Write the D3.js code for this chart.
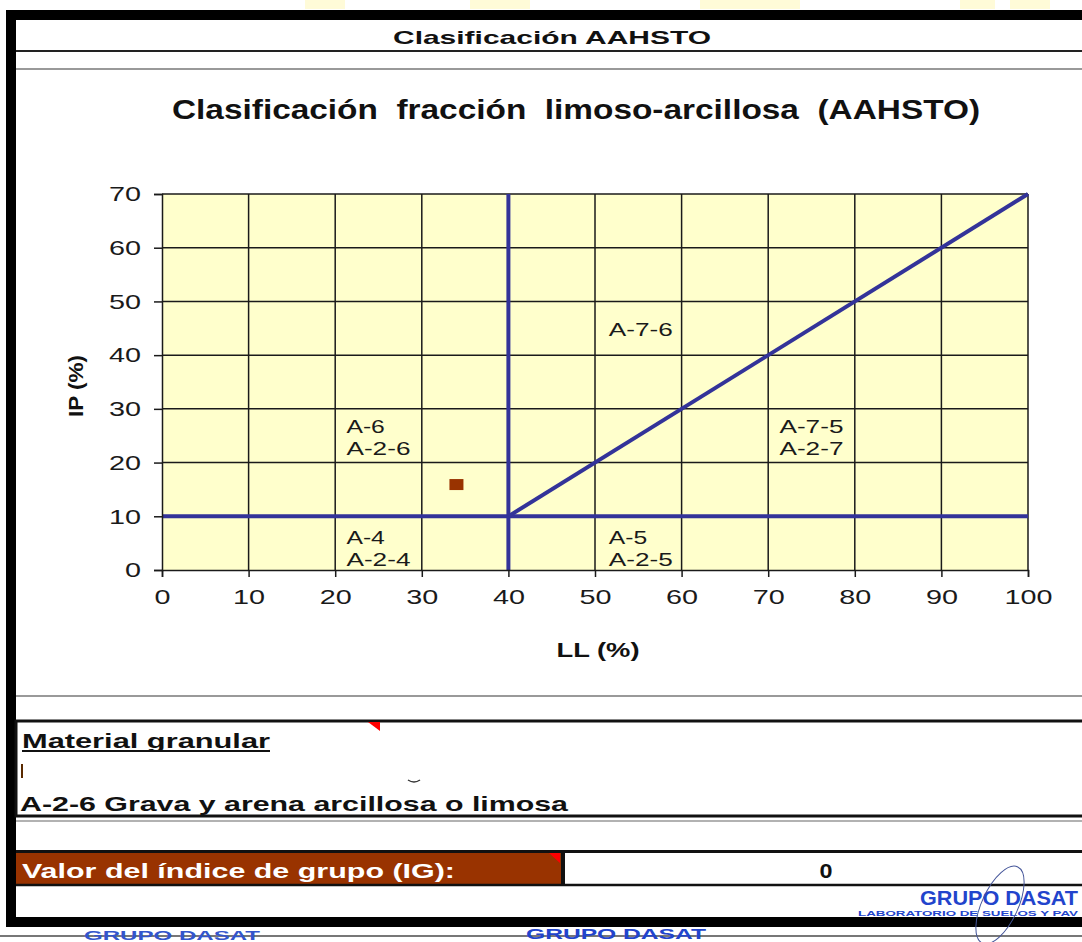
<!DOCTYPE html>
<html>
<head>
<meta charset="utf-8">
<script src="https://cdn.jsdelivr.net/npm/d3@7"></script>
<style>
  html, body { margin: 0; padding: 0; background: #fff; }
  svg { display: block; font-family: "Liberation Sans", Arial, sans-serif; }
</style>
</head>
<body>
<svg id="chart" width="1082" height="942"></svg>
<script>
// chart data
const xTicks = [0, 10, 20, 30, 40, 50, 60, 70, 80, 90, 100];
const yTicks = [0, 10, 20, 30, 40, 50, 60, 70];

// boundary lines between groups (LL, IP)
const boundaryLines = [
  [[0, 10], [100, 10]],
  [[40, 0], [40, 70]],
  [[40, 10], [100, 70]]
];

// zone labels [LL, IP, line1, line2]
const zoneLabels = [
  [51.6, 43.5, "A-7-6", null],
  [21.3, 25.5, "A-6", "A-2-6"],
  [71.3, 25.5, "A-7-5", "A-2-7"],
  [21.3, 4.8, "A-4", "A-2-4"],
  [51.6, 4.8, "A-5", "A-2-5"]
];

// sample point
const samplePoint = [[34, 16]];
const igValue = 0;
const resultText = "A-2-6 Grava y arena arcillosa o limosa";

const svg = d3.select("#chart");

// stretched text helper (the source render is wider than the font)
function label(g, x, y, str, size, width, opts = {}) {
  const t = g.append("text")
    .attr("x", x).attr("y", y)
    .attr("font-size", size)
    .attr("font-weight", opts.bold ? "bold" : "normal")
    .attr("fill", opts.fill || "#1a1a1a")
    .attr("text-anchor", opts.anchor || "start")
    .text(str);
  if (width) t.attr("textLength", width).attr("lengthAdjust", "spacingAndGlyphs");
  return t;
}

// faint watermark shapes at the very top
const wm = [[305, 40], [470, 60], [700, 70], [760, 40], [960, 35], [1010, 40]];
svg.selectAll("rect.wm").data(wm).join("rect")
  .attr("x", d => d[0]).attr("y", 0).attr("width", d => d[1]).attr("height", 9)
  .attr("fill", "#fffbd8");

// outer frame
svg.append("line").attr("x1", 0).attr("x2", 1082).attr("y1", 936).attr("y2", 936)
  .attr("stroke", "#777").attr("stroke-width", 2);
svg.append("rect").attr("x", 6).attr("y", 10).attr("width", 1080).attr("height", 10).attr("fill", "#000");
svg.append("rect").attr("x", 6).attr("y", 10).attr("width", 10).attr("height", 917).attr("fill", "#000");
svg.append("rect").attr("x", 6).attr("y", 917).attr("width", 1080).attr("height", 10).attr("fill", "#000");

// header row
label(svg, 552, 44, "Clasificación AAHSTO", 19, 318, { bold: true, anchor: "middle", fill: "#111" });
svg.append("line").attr("x1", 16).attr("x2", 1082).attr("y1", 51).attr("y2", 51)
  .attr("stroke", "#222").attr("stroke-width", 2);
svg.append("line").attr("x1", 16).attr("x2", 1082).attr("y1", 69).attr("y2", 69)
  .attr("stroke", "#999").attr("stroke-width", 2);

// chart title (double spaces kept)
label(svg, 576, 119, "Clasificación  fracción  limoso-arcillosa  (AAHSTO)", 27, 808,
  { bold: true, anchor: "middle", fill: "#111" })
  .style("white-space", "pre");

// scales
const x = d3.scaleLinear().domain([0, 100]).range([162, 1028]);
const y = d3.scaleLinear().domain([0, 70]).range([570, 194]);

const plot = svg.append("g");
plot.append("rect")
  .attr("x", x(0)).attr("y", y(70))
  .attr("width", x(100) - x(0)).attr("height", y(0) - y(70))
  .attr("fill", "#ffffcc");

// grid
plot.selectAll("line.vg").data(xTicks.slice(1)).join("line")
  .attr("x1", d => x(d)).attr("x2", d => x(d))
  .attr("y1", y(0)).attr("y2", y(70))
  .attr("stroke", "#1a1a1a").attr("stroke-width", 1.5);
plot.selectAll("line.hg").data(yTicks.slice(1)).join("line")
  .attr("x1", x(0)).attr("x2", x(100))
  .attr("y1", d => y(d)).attr("y2", d => y(d))
  .attr("stroke", "#1a1a1a").attr("stroke-width", 1.5);

// axes
const xAxis = svg.append("g").attr("transform", `translate(0,${y(0)})`)
  .call(d3.axisBottom(x).tickValues(xTicks).tickSize(7).tickPadding(12).tickFormat(d3.format("d")));
const yAxis = svg.append("g").attr("transform", `translate(${x(0)},0)`)
  .call(d3.axisLeft(y).tickValues(yTicks).tickSize(8).tickPadding(13).tickFormat(d3.format("d")));

[xAxis, yAxis].forEach(a => {
  a.select(".domain").attr("stroke", "#1a1a1a").attr("stroke-width", 1.5);
  a.selectAll(".tick line").attr("stroke", "#1a1a1a").attr("stroke-width", 1.5);
  a.selectAll(".tick text")
    .attr("font-size", 21)
    .attr("fill", "#1a1a1a")
    .attr("font-family", "Liberation Sans, Arial, sans-serif")
    .attr("textLength", d => String(d).length * 16)
    .attr("lengthAdjust", "spacingAndGlyphs");
});
xAxis.selectAll(".tick text").attr("dy", "0.71em");

// boundary lines
const line = d3.line().x(d => x(d[0])).y(d => y(d[1]));
plot.selectAll("path.bound").data(boundaryLines).join("path")
  .attr("d", line)
  .attr("fill", "none")
  .attr("stroke", "#333399")
  .attr("stroke-width", 4);

// zone labels
zoneLabels.forEach(([lx, ly, a, b]) => {
  label(plot, x(lx), y(ly), a, 18, a.length * 12.8, { fill: "#1a1a1a" });
  if (b) label(plot, x(lx), y(ly) + 22, b, 18, b.length * 12.8, { fill: "#1a1a1a" });
});

// sample point
plot.selectAll("rect.pt").data(samplePoint).join("rect")
  .attr("x", d => x(d[0]) - 7).attr("y", d => y(d[1]) - 5)
  .attr("width", 14).attr("height", 11)
  .attr("fill", "#993300");

// axis titles
label(svg, 598, 657, "LL (%)", 21, 83, { bold: true, anchor: "middle", fill: "#111" });
label(svg, 0, 0, "IP (%)", 21, 62, { bold: true, anchor: "middle", fill: "#111" })
  .attr("transform", "translate(83,386) rotate(-90)");

// lower table
svg.append("line").attr("x1", 16).attr("x2", 1082).attr("y1", 696).attr("y2", 696)
  .attr("stroke", "#777").attr("stroke-width", 1.5);
svg.append("rect").attr("x", 16).attr("y", 721).attr("width", 1080).attr("height", 95)
  .attr("fill", "none").attr("stroke", "#111").attr("stroke-width", 3);
svg.append("line").attr("x1", 16).attr("x2", 1082).attr("y1", 821).attr("y2", 821)
  .attr("stroke", "#999").attr("stroke-width", 1.5);
svg.append("path").attr("d", "M368,722 L380,722 L380,731 Z").attr("fill", "#ff0000");

label(svg, 22, 748, "Material granular", 21, 248, { bold: true, fill: "#111" });
svg.append("line").attr("x1", 22).attr("x2", 270).attr("y1", 751).attr("y2", 751)
  .attr("stroke", "#111").attr("stroke-width", 2);
svg.append("rect").attr("x", 21).attr("y", 764).attr("width", 2).attr("height", 14).attr("fill", "#5a2a00");
svg.append("path").attr("d", "M408,780 Q414,784 420,780").attr("fill", "none")
  .attr("stroke", "#333").attr("stroke-width", 1.5);
label(svg, 20, 811, resultText, 21, 548, { bold: true, fill: "#111" });

// IG row
svg.append("line").attr("x1", 16).attr("x2", 1082).attr("y1", 851.5).attr("y2", 851.5)
  .attr("stroke", "#111").attr("stroke-width", 3);
svg.append("rect").attr("x", 16).attr("y", 853).attr("width", 545).attr("height", 31).attr("fill", "#993300");
svg.append("rect").attr("x", 561).attr("y", 853).attr("width", 4).attr("height", 31).attr("fill", "#111");
svg.append("path").attr("d", "M549,853 L560,853 L560,863 Z").attr("fill", "#ff0000");
svg.append("line").attr("x1", 16).attr("x2", 1082).attr("y1", 885).attr("y2", 885)
  .attr("stroke", "#111").attr("stroke-width", 2.5);
label(svg, 22, 878, "Valor del índice de grupo (IG):", 21, 433, { bold: true, fill: "#fff" });
label(svg, 826, 878, String(igValue), 21, 13, { bold: true, anchor: "middle", fill: "#111" });

// stamps
label(svg, 1078, 905, "GRUPO DASAT", 21, 158, { bold: true, anchor: "end", fill: "#2244cc" });
label(svg, 1078, 916, "LABORATORIO DE SUELOS Y PAV", 7, 220, { bold: true, anchor: "end", fill: "#2244cc" });
label(svg, 526, 939, "GRUPO DASAT", 15, 180, { bold: true, fill: "#2244cc" });
label(svg, 84, 940, "GRUPO DASAT", 13, 176, { bold: true, fill: "#3355cc" });
svg.append("ellipse").attr("cx", 1000).attr("cy", 905).attr("rx", 18).attr("ry", 42)
  .attr("transform", "rotate(25,1000,905)")
  .attr("fill", "none").attr("stroke", "#445599").attr("stroke-width", 1);
</script>
</body>
</html>
